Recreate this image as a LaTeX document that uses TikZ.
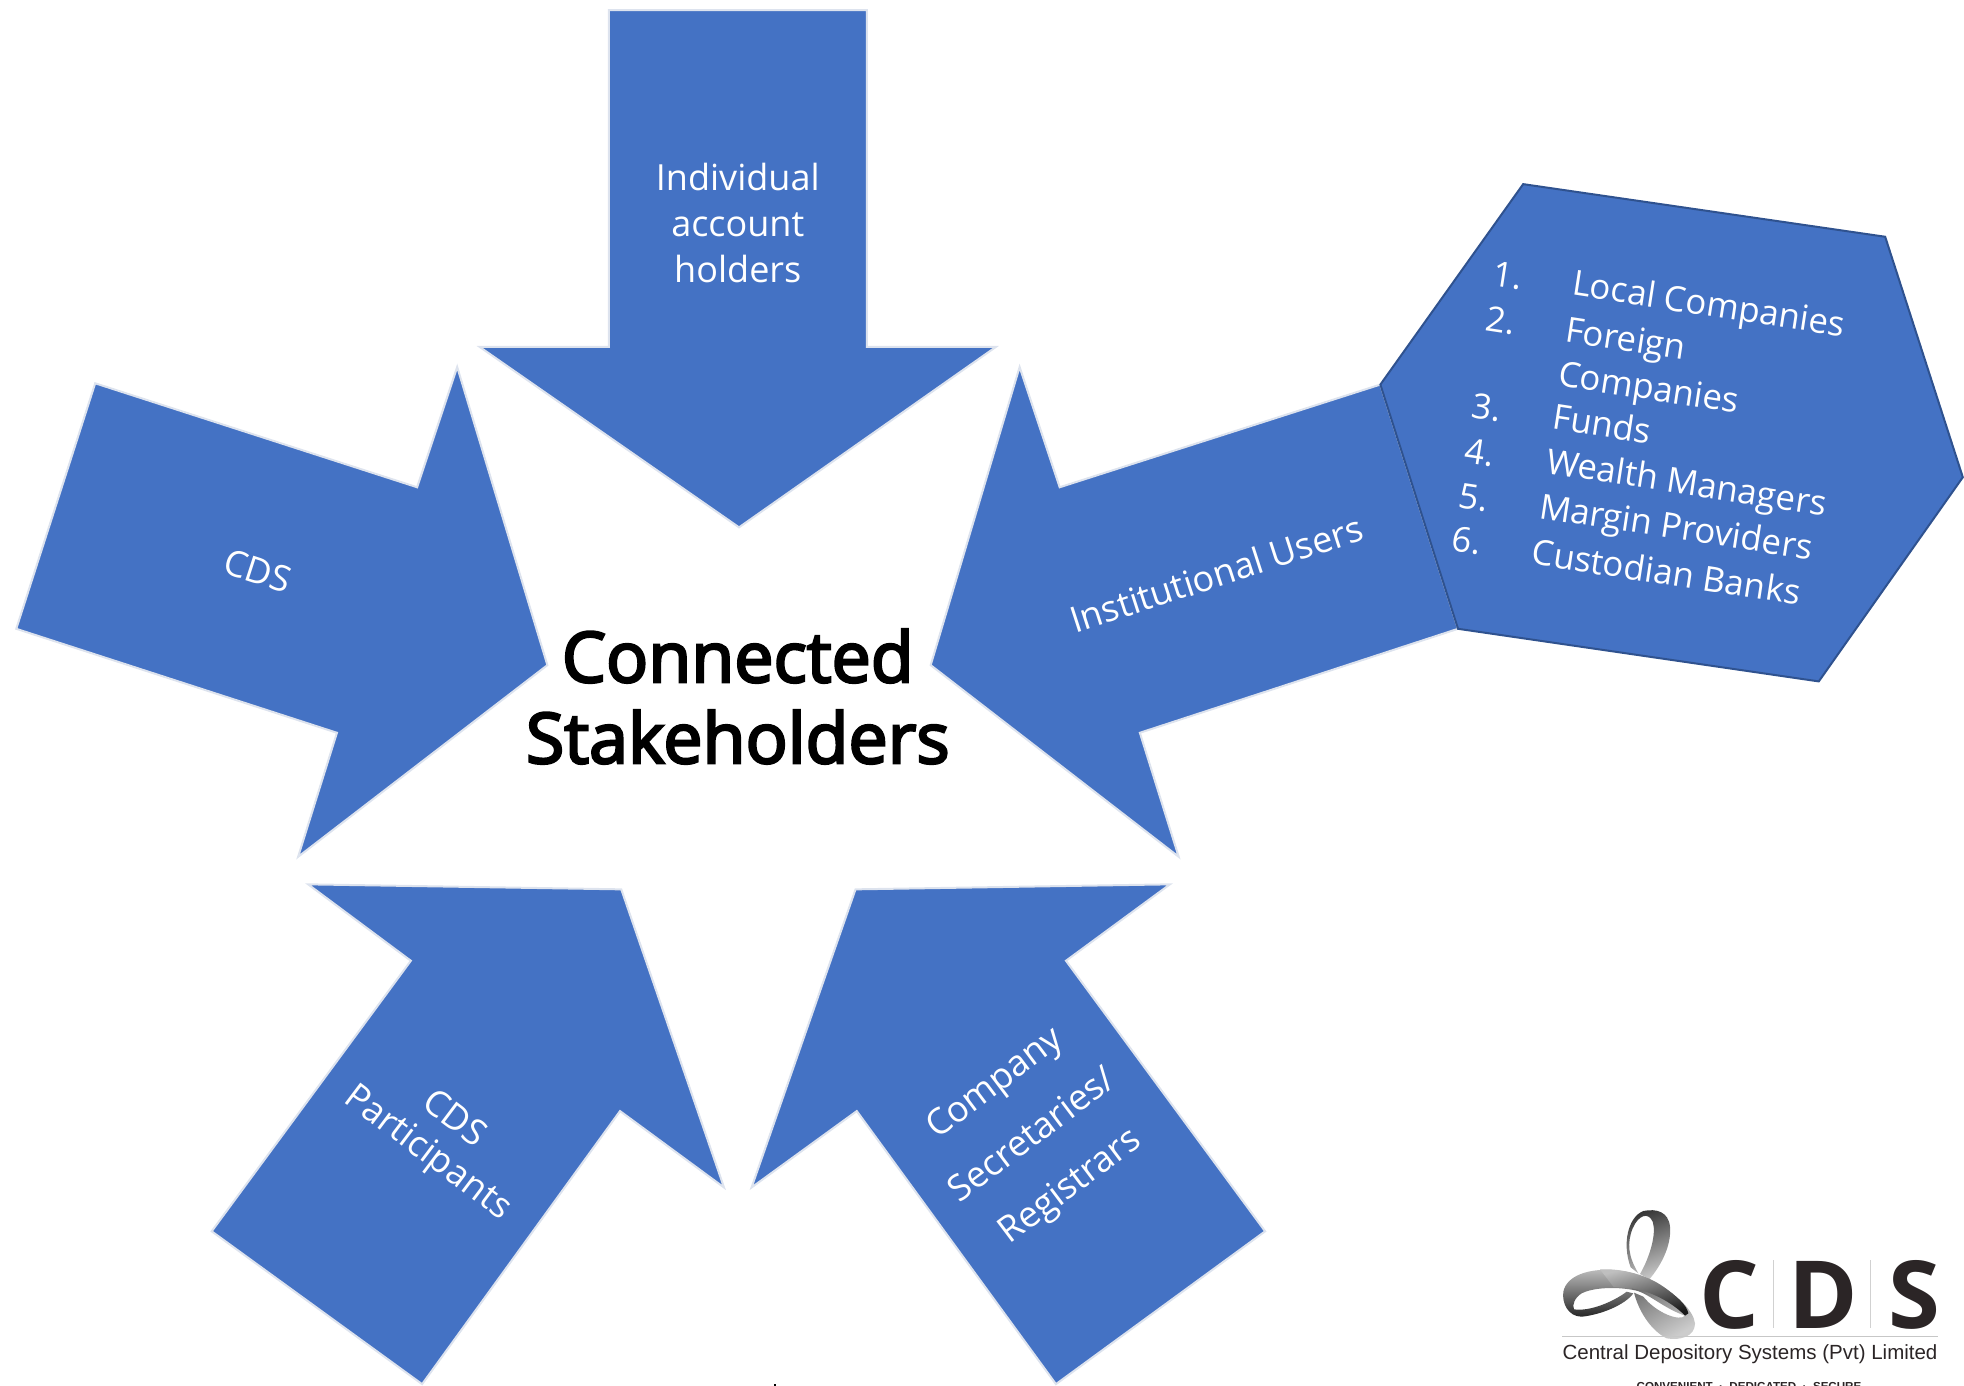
\documentclass[tikz,border=0pt]{standalone}
\usepackage{fontspec}
\setmainfont{Open Sans}
\newfontfamily\headfont{Open Sans}[FakeBold=3.5]
\newfontfamily\arialfont{Liberation Sans}
\definecolor{arrowblue}{HTML}{4472C4}
\definecolor{hexedge}{HTML}{2F528F}
\definecolor{arrowedge}{HTML}{DDE3EE}
\definecolor{logoink}{HTML}{2B2526}
\tikzset{
  bigarrow/.style={fill=arrowblue,draw=arrowedge,line width=1pt,line join=miter},
  hexshape/.style={fill=arrowblue,draw=hexedge,line width=1pt,line join=miter},
  lab/.style={text=white,align=center,font=\fontsize{18}{23}\selectfont,inner sep=0pt},
  listlab/.style={text=white,anchor=west,rotate=-8.7,font=\fontsize{17.4}{20}\selectfont,inner sep=0pt},
  logolabel/.style={text=logoink,inner sep=0pt},
  ribbon/.style={draw=none}
}
\begin{document}
\begin{tikzpicture}[x=0.5pt,y=-0.5pt]
\useasboundingbox (0,0) rectangle (1964,1386);
\clip (0,0) rectangle (1964,1386);
\begin{scope}[x=0.6263pt,y=-0.6263pt]
  % arrows, in coordinates of the 1568 wide view
  \draw[bigarrow] (486,8)--(692,8)--(692,277)--(795,277)--(590,421)--(383,277)--(486,277)--cycle;
  \draw[bigarrow] (76,306)--(333,389)--(365,293)--(437,531)--(238,684)--(269,585)--(13,502)--cycle;
  \draw[bigarrow] (1102,307)--(846,389)--(814,293)--(743,531)--(941,684)--(910,585)--(1164,502)--cycle;
  \draw[bigarrow] (246,706)--(496,710)--(578,948)--(495,887)--(337,1105)--(169,983)--(328,767)--cycle;
  \draw[bigarrow] (934,706)--(683,710)--(600,948)--(684,887)--(843,1105)--(1010,983)--(851,767)--cycle;
  \draw[hexshape] (1216,147)--(1505,189)--(1567,381)--(1452,544)--(1164,502)--(1102,307)--cycle;

  \node[lab] (indiv) at (589,178) {Individual\\account\\holders};
  \node[lab,rotate=-18] (cds) at (206,456) {CDS};
  \node[lab,rotate=18] (inst) at (971,458) {Institutional Users};
  \node[lab,rotate=-37] (part1) at (364,892) {CDS};
  \node[lab,rotate=-37] (part2) at (341,921) {Participants};
  \node[lab,rotate=37] (comp1) at (795,866) {Company};
  \node[lab,rotate=37] (comp2) at (823,905) {Secretaries/};
  \node[lab,rotate=37] (comp3) at (855,948) {Registrars};
  \node[text=black,align=center,inner sep=0pt,font=\headfont\fontsize{35}{40.5}\selectfont] (title) at (589,556) {Connected\\Stakeholders};
\end{scope}

% list in the hexagon, in full-size coordinates
\node[listlab] (n1) at (1493,273) {1.};
\node[listlab] (n2) at (1486,318) {2.};
\node[listlab] (n3) at (1472,405) {3.};
\node[listlab] (n4) at (1465,450) {4.};
\node[listlab] (n5) at (1459,495) {5.};
\node[listlab] (n6) at (1452,538) {6.};
\node[listlab] (l1) at (1572,286) {Local Companies};
\node[listlab] (l2) at (1565,333) {Foreign};
\node[listlab] (l2b) at (1558,377) {Companies};
\node[listlab] (l3) at (1553,416) {Funds};
\node[listlab] (l4) at (1546,464) {Wealth Managers};
\node[listlab] (l5) at (1539,509) {Margin Providers};
\node[listlab] (l6) at (1532,551) {Custodian Banks};

% logo ribbon (zoom coordinates: 3 units per pixel, origin 1500,1180)
\begin{scope}[shift={(1500,1180)},x=0.16667pt,y=-0.16667pt]
  \shade[ribbon,left color=black!80,right color=black!22,shading angle=20]
    (392,262) .. controls (365,190) and (385,110) .. (430,93)
    .. controls (470,85) and (505,95) .. (510,140)
    .. controls (515,200) and (480,260) .. (448,298)
    -- (420,282) .. controls (450,230) and (470,160) .. (458,125)
    .. controls (445,95) and (415,105) .. (398,145)
    .. controls (380,190) and (385,230) .. (415,280) -- cycle;
  \shade[ribbon,top color=black!25,bottom color=black!85]
    (400,340) .. controls (375,375) and (300,405) .. (245,410)
    .. controls (205,410) and (185,370) .. (190,335)
    .. controls (200,285) and (270,265) .. (340,270)
    .. controls (360,272) and (385,275) .. (405,282)
    -- (400,330) .. controls (350,320) and (280,322) .. (245,340)
    .. controls (225,352) and (215,375) .. (222,388)
    .. controls (270,395) and (340,365) .. (380,335) -- cycle;
  \shade[ribbon,left color=black!65,right color=black!20,shading angle=30]
    (402,338) .. controls (415,390) and (450,450) .. (500,475)
    .. controls (540,482) and (585,470) .. (585,430)
    .. controls (580,390) and (530,345) .. (470,310)
    .. controls (440,292) and (400,280) .. (340,272)
    -- (400,330) .. controls (440,335) and (490,385) .. (555,407)
    .. controls (540,425) and (470,400) .. (430,350) -- cycle;
  \shade[ribbon,left color=black!25,right color=black!90,shading angle=15]
    (300,268) .. controls (370,265) and (440,285) .. (490,320)
    .. controls (530,348) and (560,375) .. (565,400)
    -- (555,407) .. controls (520,370) and (450,330) .. (390,325)
    -- (340,320) -- cycle;

  \draw[black!18,line width=0.5pt] (820,240)--(820,443);
  \draw[black!18,line width=0.5pt] (1110,240)--(1110,443);
  \draw[black!22,line width=0.5pt] (187,468)--(1315,468);
\end{scope}
\node[logolabel,font=\bfseries\fontsize{47}{47}\selectfont] (logoC) at (1729,1295) {C};
\node[logolabel,font=\bfseries\fontsize{47}{47}\selectfont] (logoD) at (1823,1295) {D};
\node[logolabel,font=\bfseries\fontsize{47}{47}\selectfont] (logoS) at (1914,1295) {S};
\node[logolabel,font=\arialfont\fontsize{10.25}{12}\selectfont] (logoname) at (1750,1354) {Central Depository Systems (Pvt) Limited};
\node[logolabel,anchor=north,font=\arialfont\bfseries\fontsize{5.8}{7}\selectfont] (logotag) at (1749,1382) {CONVENIENT\ \ ·\ \ DEDICATED\ \ ·\ \ SECURE};
\fill[black] (774,1384) rectangle (776,1386);
\end{tikzpicture}
\end{document}
